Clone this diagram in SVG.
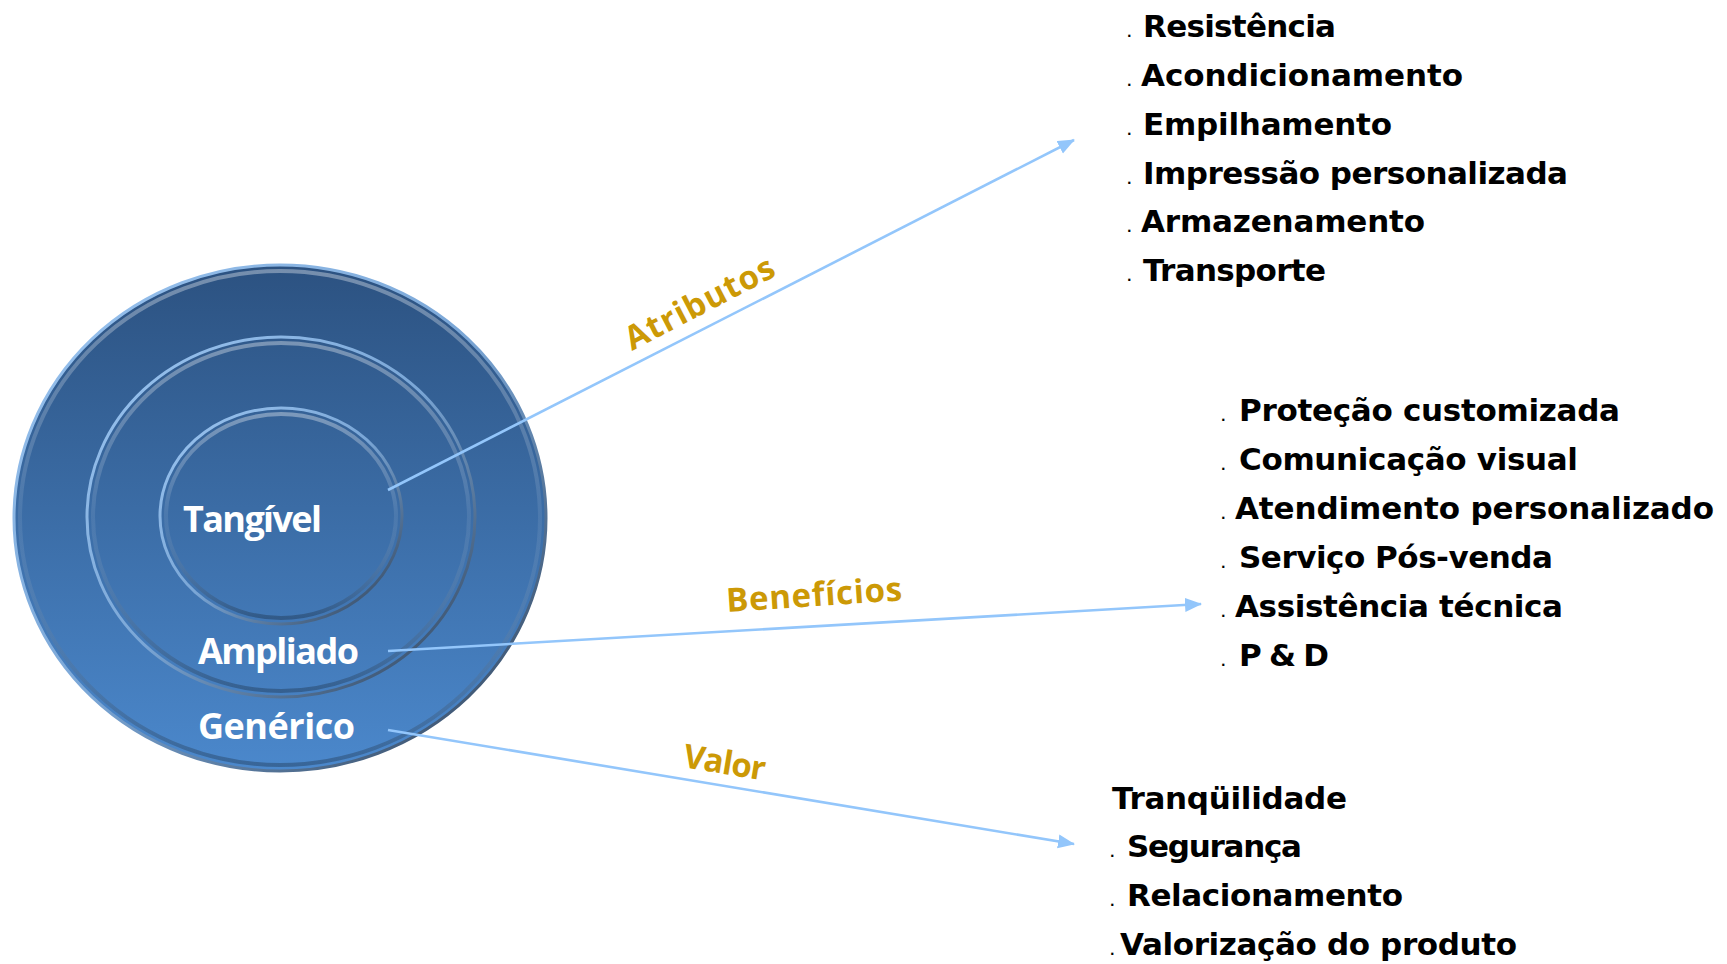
<svg xmlns="http://www.w3.org/2000/svg" width="1727" height="964" viewBox="0 0 1727 964">
<style>
.lst{font-family:"DejaVu Sans","Liberation Sans",sans-serif;font-weight:bold;font-size:31px;fill:#000}
.dot{font-size:12px}
.lbl{font-family:"Open Sans","Noto Sans",sans-serif;font-weight:bold;font-size:36px;fill:#fff}
.gold{font-family:"Open Sans","Noto Sans",sans-serif;font-weight:bold;font-size:33px;fill:#cc9906}
.con{stroke:#93c6fb;stroke-width:2.6;fill:none}
</style>
<defs>
<linearGradient id="gFill" gradientUnits="userSpaceOnUse" x1="0" y1="265" x2="0" y2="771">
<stop offset="0" stop-color="#2c5281"/>
<stop offset="1" stop-color="#4b88cc"/>
</linearGradient>
<linearGradient id="gRim" x1="0" y1="0" x2="1" y2="1">
<stop offset="0" stop-color="#9cc6f2"/>
<stop offset="0.5" stop-color="#7aa6d6"/>
<stop offset="1" stop-color="#2b3c52"/>
</linearGradient>
<linearGradient id="gHi" x1="0" y1="0" x2="0" y2="1">
<stop offset="0" stop-color="#ffffff" stop-opacity="0.35"/>
<stop offset="0.5" stop-color="#ffffff" stop-opacity="0.08"/>
<stop offset="1" stop-color="#000000" stop-opacity="0.25"/>
</linearGradient>
<marker id="arr" markerUnits="userSpaceOnUse" markerWidth="18" markerHeight="16" refX="16" refY="7" orient="auto">
<path d="M0,0 L17,7 L0,14 Z" fill="#93c6fb"/>
</marker>
</defs>

<g id="outer">
<ellipse cx="280" cy="518" rx="266" ry="253" fill="url(#gFill)" stroke="url(#gRim)" stroke-width="3"/>
<ellipse cx="280" cy="518" rx="260" ry="247" fill="none" stroke="url(#gHi)" stroke-width="4"/>
</g>
<g id="middle">
<ellipse cx="281" cy="517" rx="194" ry="180" fill="url(#gFill)" stroke="url(#gRim)" stroke-width="3"/>
<ellipse cx="281" cy="517" rx="188" ry="174" fill="none" stroke="url(#gHi)" stroke-width="4"/>
</g>
<g id="inner">
<ellipse cx="281" cy="516" rx="121" ry="108" fill="url(#gFill)" stroke="url(#gRim)" stroke-width="3"/>
<ellipse cx="281" cy="516" rx="115" ry="102" fill="none" stroke="url(#gHi)" stroke-width="4"/>
</g>

<g id="labels-circle">
<text class="lbl" x="183" y="532" textLength="139">Tangível</text>
<text class="lbl" x="198" y="664" textLength="161">Ampliado</text>
<text class="lbl" x="198" y="739" textLength="157">Genérico</text>
</g>

<g id="connectors">
<line class="con" x1="388" y1="490" x2="1074" y2="140" marker-end="url(#arr)"/>
<line class="con" x1="388" y1="651" x2="1201" y2="604" marker-end="url(#arr)"/>
<line class="con" x1="388" y1="730" x2="1074" y2="844" marker-end="url(#arr)"/>
</g>

<g id="connector-labels">
<text class="gold" transform="translate(632,351) rotate(-27.5)" textLength="164">Atributos</text>
<text class="gold" transform="translate(727,612) rotate(-3.8)" textLength="176">Benefícios</text>
<text class="gold" transform="translate(682,767) rotate(9.4)" textLength="83">Valor</text>
</g>

<g id="atributos-list">
<text class="lst" y="37"><tspan class="dot" x="1127">. </tspan><tspan x="1143" textLength="193">Resistência</tspan></text>
<text class="lst" y="86"><tspan class="dot" x="1127">. </tspan><tspan x="1141" textLength="322">Acondicionamento</tspan></text>
<text class="lst" y="135"><tspan class="dot" x="1127">. </tspan><tspan x="1143" textLength="249">Empilhamento</tspan></text>
<text class="lst" y="184"><tspan class="dot" x="1127">. </tspan><tspan x="1143" textLength="425">Impressão personalizada</tspan></text>
<text class="lst" y="232"><tspan class="dot" x="1127">. </tspan><tspan x="1141" textLength="284">Armazenamento</tspan></text>
<text class="lst" y="281"><tspan class="dot" x="1127">. </tspan><tspan x="1143" textLength="183">Transporte</tspan></text>
</g>

<g id="beneficios-list">
<text class="lst" y="421"><tspan class="dot" x="1221">. </tspan><tspan x="1239" textLength="381">Proteção customizada</tspan></text>
<text class="lst" y="470"><tspan class="dot" x="1221">. </tspan><tspan x="1239" textLength="339">Comunicação visual</tspan></text>
<text class="lst" y="519"><tspan class="dot" x="1221">. </tspan><tspan x="1235" textLength="479">Atendimento personalizado</tspan></text>
<text class="lst" y="568"><tspan class="dot" x="1221">. </tspan><tspan x="1239" textLength="314">Serviço Pós-venda</tspan></text>
<text class="lst" y="617"><tspan class="dot" x="1221">. </tspan><tspan x="1235" textLength="328">Assistência técnica</tspan></text>
<text class="lst" y="666"><tspan class="dot" x="1221">. </tspan><tspan x="1239" textLength="90">P &amp; D</tspan></text>
</g>

<g id="valor-list">
<text class="lst" x="1112" y="809" textLength="235">Tranqüilidade</text>
<text class="lst" y="857"><tspan class="dot" x="1110">. </tspan><tspan x="1127" textLength="175">Segurança</tspan></text>
<text class="lst" y="906"><tspan class="dot" x="1110">. </tspan><tspan x="1127" textLength="276">Relacionamento</tspan></text>
<text class="lst" y="955"><tspan class="dot" x="1110">.</tspan><tspan x="1120" textLength="397">Valorização do produto</tspan></text>
</g>
</svg>
